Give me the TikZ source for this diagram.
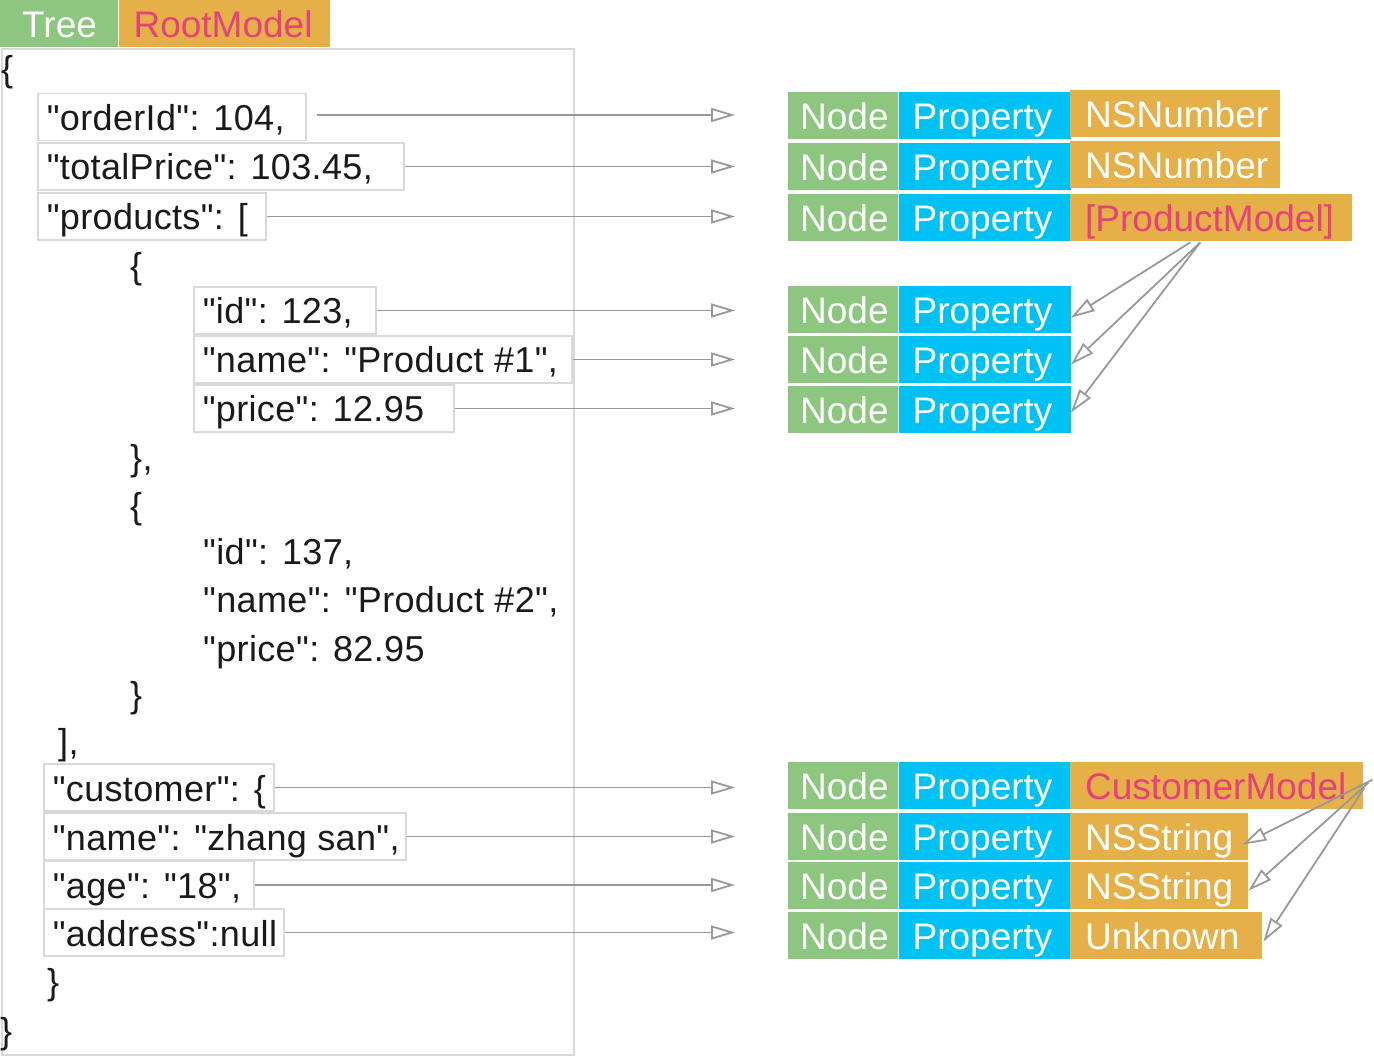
\documentclass[tikz,border=0pt]{standalone}
\usepackage{fontspec}
\setmainfont{Liberation Sans}[Ligatures=TeXOff]
\newfontfamily\jsonfont{Liberation Sans}[Ligatures=TeXOff, LetterSpace=1]
\usetikzlibrary{arrows.meta,calc}
\definecolor{cgreen}{HTML}{8DC67E}
\definecolor{cblue}{HTML}{00C1F3}
\definecolor{corange}{HTML}{E5B047}
\definecolor{cpink}{HTML}{E6407D}
\definecolor{cframe}{HTML}{D9D9D9}
\definecolor{carrow}{HTML}{999999}
\definecolor{ctext}{HTML}{1A1A1A}
\newcommand{\fixw}[2]{\makebox[#1][l]{#2}}
\newcommand{\cellt}[3]{\makebox[#1][l]{\hspace*{#2}#3}}
\begin{document}
\begin{tikzpicture}[x=1pt,y=-1pt,
  txt/.style={font=\fontsize{37}{44}\selectfont, text height=32pt, text depth=5pt, inner ysep=5pt},
  jl/.style={txt, font=\jsonfont\fontsize{36}{44}\selectfont, anchor=west, inner xsep=9pt, text=ctext},
  jbox/.style={jl, draw=cframe, line width=1.6pt},
  cell/.style={txt, anchor=north west, inner xsep=0pt, minimum height=47pt, text=white},
  gcell/.style={cell, fill=cgreen},
  bcell/.style={cell, fill=cblue},
  ocell/.style={cell, fill=corange},
  arr/.style={draw=carrow, line width=1.8pt, -{Triangle[open, length=24pt, width=14pt]}}
]
\useasboundingbox (0,0) rectangle (1374,1056);
\fill[white] (0,0) rectangle (1374,1056);

% header
\node[gcell] (tree) at (0,0) {\cellt{118pt}{22pt}{Tree}};
\node[ocell, text=cpink] (root) at (tree.north east) {\cellt{211pt}{15pt}{RootModel}};

% frame
\node[draw=cframe, line width=1.6pt, anchor=north west, minimum width=572pt, minimum height=1006pt, inner sep=0pt] (frame) at (1,48) {};

% json lines
\node[jl] (b1) at (-8,68) {\{};
\node[jbox] (k1) at (37,117) {\fixw{250pt}{"orderId": 104,}};
\node[jbox] (k2) at (37,166.5) {\fixw{348pt}{"totalPrice": 103.45,}};
\node[jbox] (k3) at (37,216.5) {\fixw{210pt}{"products": [}};
\node[jl] (b2) at (121,265) {\{};
\node[jbox] (k4) at (193,310.5) {\fixw{164pt}{"id": 123,}};
\node[jbox] (k5) at (193,359.5) {\fixw{360pt}{"name": "Product \#1",}};
\node[jbox] (k6) at (193,408.5) {\fixw{242pt}{"price": 12.95}};
\node[jl] (b3) at (121,457) {\},};
\node[jl] (b4) at (121,505) {\{};
\node[jl] (l1) at (194,551) {"id": 137,};
\node[jl] (l2) at (194,599) {"name": "Product \#2",};
\node[jl] (l3) at (194,648) {"price": 82.95};
\node[jl] (b5) at (121,694) {\}};
\node[jl] (b6) at (49,741) {],};
\node[jbox] (k7) at (43,787.5) {\fixw{212pt}{"customer": \{}};
\node[jbox] (k8) at (43,836.5) {\fixw{344pt}{"name": "zhang san",}};
\node[jbox] (k9) at (43,885) {\fixw{192pt}{"age": "18",}};
\node[jbox] (k10) at (43,932.5) {\fixw{222pt}{"address":null}};
\node[jl] (b7) at (38,981) {\}};
\node[jl] (b8) at (-9,1030) {\}};

% cells
\foreach \i/\y in {1/92,2/143,3/194,4/286,5/336,6/386,7/762,8/813,9/862,10/912}{
  \node[gcell] (n\i) at (788,\y) {\cellt{110pt}{12pt}{Node}};
  \node[bcell] (p\i) at (n\i.north east) {\cellt{172pt}{14pt}{Property}};
}
\node[ocell] (t1) at (1070,90) {\cellt{210pt}{15pt}{NSNumber}};
\node[ocell] (t2) at (1070,141) {\cellt{210pt}{15pt}{NSNumber}};
\node[ocell, text=cpink] (t3) at (1070,194) {\cellt{282pt}{15pt}{[ProductModel]}};
\node[ocell, text=cpink] (t7) at (1070,762) {\cellt{293pt}{15pt}{CustomerModel}};
\node[ocell] (t8) at (1070,813) {\cellt{178pt}{15pt}{NSString}};
\node[ocell] (t9) at (1070,862) {\cellt{178pt}{15pt}{NSString}};
\node[ocell] (t10) at (1070,912) {\cellt{192pt}{15pt}{Unknown}};

% horizontal arrows
\coordinate (tipx) at (735,0);
\draw[arr] ([xshift=10pt,yshift=2pt]k1.east) -- ([yshift=2pt]k1.east -| tipx);
\foreach \k in {2,3,4,5,6,7,8,9,10}{
  \draw[arr] (k\k.east) -- (k\k.east -| tipx);
}

% diagonal arrows
\draw[arr] ($(t3.south)+(-21,1)$) -- ($(p4.east)+(0,8)$);
\draw[arr] ($(t3.south)+(-11,1)$) -- ($(p5.east)+(0,5)$);
\draw[arr] ($(t3.south)+(-11,1)$) -- ($(p6.east)+(0,3)$);
\draw[arr] ($(t7.east)+(9,-6)$) -- ($(t8.east)+(-6,8)$);
\draw[arr] ($(t7.east)+(5,-3)$) -- ($(t9.east)+(0,5)$);
\draw[arr] ($(t7.east)+(1,2)$) -- ($(t10.east)+(1,6)$);
\end{tikzpicture}
\end{document}
